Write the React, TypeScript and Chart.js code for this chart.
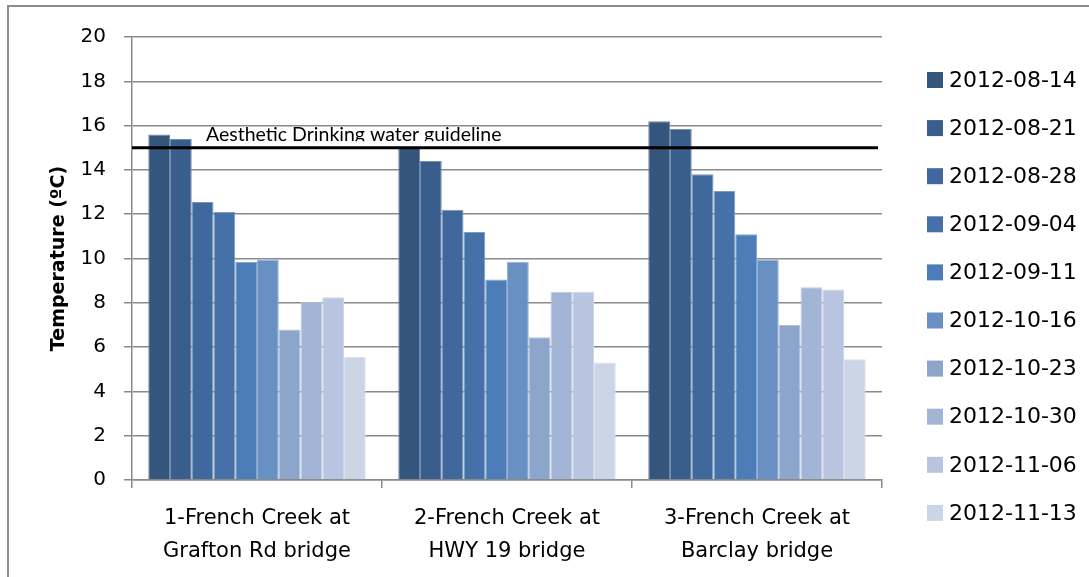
import React, { useEffect, useRef } from 'react';
import { Chart, registerables } from 'chart.js';

Chart.register(...registerables);

// ---- data ----
const sites: string[][] = [
  ['1-French Creek at', 'Grafton Rd bridge'],
  ['2-French Creek at', 'HWY 19 bridge'],
  ['3-French Creek at', 'Barclay bridge'],
];
const dates = [
  '2012-08-14', '2012-08-21', '2012-08-28', '2012-09-04', '2012-09-11',
  '2012-10-16', '2012-10-23', '2012-10-30', '2012-11-06', '2012-11-13',
];
const t0814 = [15.6, 15.0, 16.2];
const t0821 = [15.4, 14.4, 15.85];
const t0828 = [12.55, 12.2, 13.8];
const t0904 = [12.1, 11.2, 13.05];
const t0911 = [9.85, 9.05, 11.1];
const t1016 = [9.95, 9.85, 9.95];
const t1023 = [6.8, 6.45, 7.0];
const t1030 = [8.05, 8.5, 8.7];
const t1106 = [8.25, 8.5, 8.6];
const t1113 = [5.55, 5.3, 5.45];
const seriesValues = [t0814, t0821, t0828, t0904, t0911, t1016, t1023, t1030, t1106, t1113];
const guidelineValue = 15;
const guidelineLabel = 'Aesthetic Drinking water guideline';
const yTitle = 'Temperature (ºC)';
const yMin = 0;
const yMax = 20;
const yStep = 2;

// ---- styles ----
const colors = [
  '#34557C', '#3A5E8C', '#3F689C', '#4571A8', '#4C7DB8',
  '#6890C2', '#8BA5CB', '#A3B5D6', '#B9C5E0', '#CBD5E6',
];
function lighten(hex: string, t: number) {
  const n = parseInt(hex.slice(1), 16);
  const r = (n >> 16) & 255, g = (n >> 8) & 255, b = n & 255;
  const m = (c: number) => Math.round(c + (255 - c) * t);
  return `rgb(${m(r)},${m(g)},${m(b)})`;
}
const FONT = '"DejaVu Sans", sans-serif';
const GRID = '#8a8a8a';

const guidelinePlugin = {
  id: 'guideline',
  afterDatasetsDraw(chart: any) {
    const { ctx, chartArea } = chart;
    const y = chart.scales.y.getPixelForValue(guidelineValue);
    ctx.save();
    ctx.strokeStyle = '#000';
    ctx.lineWidth = 3;
    ctx.beginPath();
    ctx.moveTo(chartArea.left, y);
    ctx.lineTo(chartArea.right - 4, y);
    ctx.stroke();
    // label (clipped just below its baseline, like the reference)
    ctx.beginPath();
    ctx.rect(chartArea.left, y - 40, chartArea.right - chartArea.left, 33.5);
    ctx.clip();
    ctx.fillStyle = '#000';
    ctx.font = '19.5px Lato, sans-serif';
    ctx.textAlign = 'left';
    ctx.textBaseline = 'alphabetic';
    ctx.fillText(guidelineLabel, chartArea.left + 74, y - 7);
    ctx.restore();
  },
};

const legendPlugin = {
  id: 'sideLegend',
  afterDraw(chart: any) {
    const { ctx, chartArea } = chart;
    const x0 = chartArea.right + 45;
    const y0 = chartArea.top + 43;
    const step = 48.1;
    ctx.save();
    ctx.font = `22px ${FONT}`;
    ctx.textAlign = 'left';
    ctx.textBaseline = 'middle';
    chart.data.datasets.forEach((ds: any, i: number) => {
      const cy = y0 + i * step;
      ctx.fillStyle = ds.backgroundColor;
      ctx.fillRect(x0, cy - 8, 16, 16);
      ctx.fillStyle = '#000';
      ctx.fillText(ds.label, x0 + 22, cy + 1);
    });
    ctx.restore();
  },
};

export default function App() {
  const ref = useRef<HTMLCanvasElement | null>(null);

  useEffect(() => {
    if (!ref.current) return;
    const chart = new Chart(ref.current, {
      type: 'bar',
      data: {
        labels: sites,
        datasets: dates.map((d, i) => ({
          label: d,
          data: seriesValues[i],
          backgroundColor: colors[i],
          borderColor: lighten(colors[i], 0.3),
          borderWidth: 1,
          categoryPercentage: 0.87,
          barPercentage: 1.0,
        })),
      },
      options: {
        responsive: false,
        animation: false,
        layout: { padding: { left: 0, top: 25, right: 207, bottom: 0 } },
        plugins: {
          legend: { display: false },
          tooltip: { enabled: false },
        },
        scales: {
          x: {
            grid: {
              drawOnChartArea: false,
              drawTicks: true,
              tickLength: 8,
              color: GRID,
              lineWidth: 1.5,
              offset: true,
            },
            border: { color: GRID, width: 1.5 },
            ticks: {
              color: '#000',
              font: { family: FONT, size: 21, lineHeight: 1.57 },
              padding: 14,
              maxRotation: 0,
              autoSkip: false,
            },
            afterFit(scale: any) {
              scale.height = 97;
            },
          },
          y: {
            min: yMin,
            max: yMax,
            grid: {
              color: GRID,
              lineWidth: 1.5,
              tickLength: 8,
            },
            border: { color: GRID, width: 1.5 },
            ticks: {
              stepSize: yStep,
              color: '#000',
              font: { family: FONT, size: 20 },
              padding: 18,
            },
            title: {
              display: true,
              text: yTitle,
              color: '#000',
              font: { family: FONT, size: 19, weight: 'bold' },
              padding: { top: 39, bottom: 0 },
            },
            afterFit(scale: any) {
              scale.width = 123;
            },
          },
        },
      },
      plugins: [guidelinePlugin, legendPlugin],
    } as any);
    return () => chart.destroy();
  }, []);

  return (
    <div
      style={{
        position: 'absolute',
        left: 7,
        top: 5,
        borderLeft: '2px solid #8c8c8c',
        borderTop: '2px solid #8c8c8c',
        background: '#fff',
      }}
    >
      <canvas ref={ref} width={1080} height={570} style={{ display: 'block' }} />
    </div>
  );
}
